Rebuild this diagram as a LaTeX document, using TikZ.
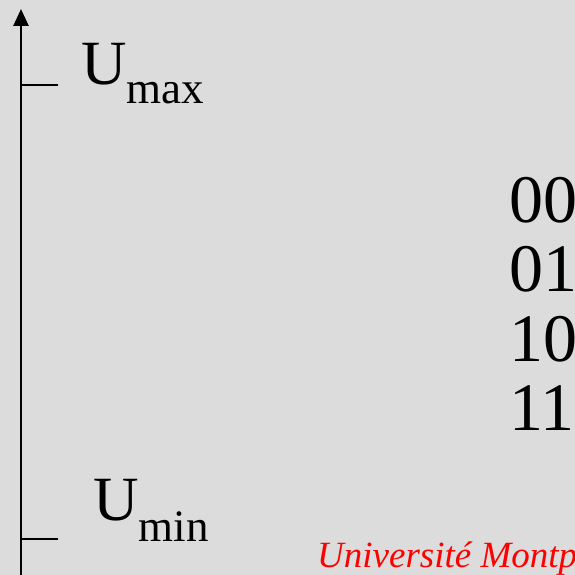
\documentclass[tikz,border=0pt]{standalone}
\usepackage{fontspec}
\setmainfont{Liberation Serif}
\usetikzlibrary{arrows.meta}
\definecolor{fond}{RGB}{220,220,220}
\begin{document}
\begin{tikzpicture}[x=1pt,y=-1pt,line cap=butt,
  txt/.style={inner sep=0pt,anchor=base west}]

% fond gris, coupé aux bords
\fill[fond] (0,0) rectangle (575,575);
\clip (0,0) rectangle (575,575);

% tailles des textes
\def\grand{\fontsize{63}{63}\selectfont}
\def\petit{\fontsize{45}{45}\selectfont}
\def\code{\fontsize{68}{68}\selectfont}

% axe vertical avec flèche
\coordinate (bas) at (21,580);
\coordinate (haut) at (21,9);
\draw[line width=2.6pt,-{Triangle[length=17pt,width=15pt]}] (bas) -- (haut);

% graduations Umax et Umin
\coordinate (tmax) at (21,85);
\coordinate (tmin) at (21,539);
\draw[line width=2.2pt] (tmax) -- ++(37,0);
\draw[line width=2.2pt] (tmin) -- ++(37,0);

% étiquettes
\node[txt] (umax) at (81,85) {\grand U\raisebox{-19pt}{\petit max}};
\node[txt] (umin) at (93,520) {\grand U\raisebox{-21pt}{\petit min}};

% codes binaires
\node[txt] (c00) at (509,222) {\code 00};
\node[txt] (c01) at (509,291) {\code 01};
\node[txt] (c10) at (509,361) {\code 10};
\node[txt] (c11) at (509,430) {\code 11};

% bandeau rouge
\node[txt,text=red] (univ) at (317,567) {\fontsize{37}{37}\selectfont\itshape Université Montpellier};

\end{tikzpicture}
\end{document}
